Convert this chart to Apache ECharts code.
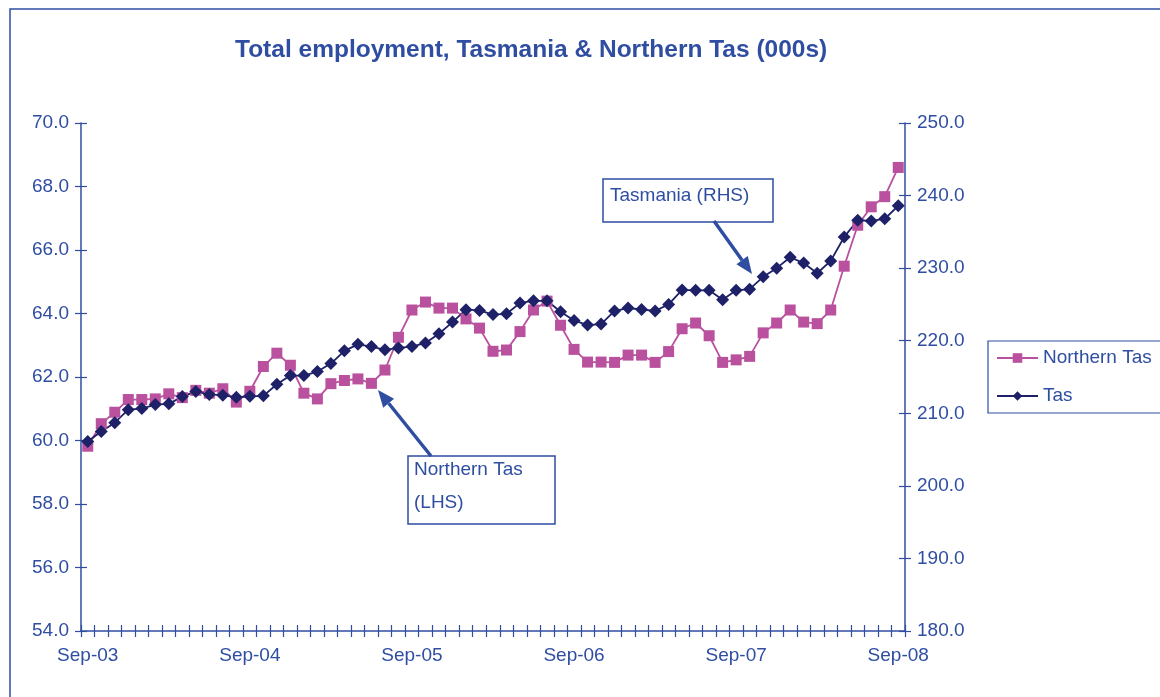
<!DOCTYPE html>
<html>
<head>
<meta charset="utf-8">
<script src="https://cdn.jsdelivr.net/npm/echarts@6/dist/echarts.min.js"></script>
<style>
  html, body { margin: 0; padding: 0; background: #fff; }
  #chart { width: 1160px; height: 697px; }
</style>
</head>
<body>
<div id="chart"></div>
<script>
// monthly, Sep-03 .. Sep-08
const months = ['Jan', 'Feb', 'Mar', 'Apr', 'May', 'Jun', 'Jul', 'Aug', 'Sep', 'Oct', 'Nov', 'Dec']
const categories = []
for (let i = 0; i <= 60; i++) {
  const m = (8 + i) % 12
  const y = 3 + Math.floor((8 + i) / 12)
  categories.push(months[m] + '-' + String(y).padStart(2, '0'))
}

// Northern Tas (LHS, 000s)
const northernTas = [
  59.82, 60.53, 60.89, 61.29, 61.29, 61.31, 61.47, 61.35, 61.58, 61.49,
  61.63, 61.21, 61.55, 62.33, 62.75, 62.37, 61.49, 61.31, 61.79, 61.89,
  61.94, 61.80, 62.22, 63.25, 64.11, 64.36, 64.17, 64.17, 63.83, 63.54,
  62.81, 62.85, 63.43, 64.11, 64.39, 63.63, 62.87, 62.47, 62.47, 62.46,
  62.69, 62.69, 62.46, 62.80, 63.52, 63.70, 63.30, 62.46, 62.54, 62.65,
  63.39, 63.70, 64.11, 63.73, 63.68, 64.11, 65.49, 66.78, 67.36, 67.68,
  68.60
]

// Tasmania (RHS, 000s)
const tas = [
  206.1, 207.5, 208.7, 210.5, 210.65, 211.2, 211.3, 212.3, 213.0, 212.6,
  212.5, 212.2, 212.35, 212.4, 214.0, 215.2, 215.2, 215.75, 216.85, 218.6,
  219.5, 219.2, 218.75, 219.0, 219.2, 219.7, 220.96, 222.57, 224.28, 224.18,
  223.6, 223.7, 225.2, 225.5, 225.5, 224.0, 222.8, 222.15, 222.3, 224.1,
  224.5, 224.3, 224.1, 225.0, 227.0, 226.95, 226.95, 225.65, 226.95, 227.1,
  228.8, 230.0, 231.5, 230.7, 229.3, 231.0, 234.3, 236.6, 236.5, 236.8,
  238.6
]

const blue = '#2f4ea2'
const font = "'Liberation Sans', Arial, sans-serif"

function arrow(x1, y1, x2, y2) {
  const ang = Math.atan2(y2 - y1, x2 - x1)
  const len = 17
  const w = 7
  const bx = x2 - len * Math.cos(ang)
  const by = y2 - len * Math.sin(ang)
  const px = -Math.sin(ang) * w
  const py = Math.cos(ang) * w
  return [{
    type: 'line',
    shape: { x1: x1, y1: y1, x2: bx, y2: by },
    style: { stroke: blue, lineWidth: 3.5 },
  }, {
    type: 'polygon',
    shape: { points: [[x2, y2], [bx + px, by + py], [bx - px, by - py]] },
    style: { fill: blue },
  }]
}

const chart = echarts.init(document.getElementById('chart'))

// each side: one axis with line + labels, and a tick-only copy pulled 6px
// into the plot with 12px ticks so the ticks cross the axis line
const valueAxis = (pos, min, max, interval, tickOnly) => ({
  type: 'value',
  position: pos,
  min: min,
  max: max,
  interval: interval,
  offset: tickOnly ? -6 : 0,
  axisLine: {
    show: true,
    onZero: false,
    lineStyle: { color: blue, width: 1.5, opacity: tickOnly ? 0 : 1 },
  },
  axisTick: { show: tickOnly, length: 12, lineStyle: { color: blue, width: 1.2 } },
  axisLabel: {
    show: !tickOnly,
    margin: 12,
    color: blue,
    fontFamily: font,
    fontSize: 19,
    formatter: (v) => v.toFixed(1),
  },
  splitLine: { show: false },
})

const catAxis = (tickOnly) => ({
  type: 'category',
  data: categories,
  position: 'bottom',
  boundaryGap: true,
  offset: tickOnly ? -6 : 0,
  axisLine: {
    show: true,
    onZero: false,
    lineStyle: { color: blue, width: 1.5, opacity: tickOnly ? 0 : 1 },
  },
  axisTick: {
    show: tickOnly,
    interval: 0,
    length: 12,
    lineStyle: { color: blue, width: 1.2 },
  },
  axisLabel: {
    show: !tickOnly,
    interval: 11,
    margin: 15,
    color: blue,
    fontFamily: font,
    fontSize: 19,
  },
})

chart.setOption({
  animation: false,
  title: {
    text: 'Total employment, Tasmania & Northern Tas (000s)',
    left: 230,
    top: 33,
    textStyle: { color: blue, fontFamily: font, fontSize: 24.5, fontWeight: 'bold' },
  },
  grid: { left: 81, right: 255, top: 123, bottom: 66 },
  legend: {
    orient: 'vertical',
    left: 996,
    top: 348,
    padding: 0,
    itemWidth: 41,
    itemHeight: 12,
    itemGap: 18,
    textStyle: { color: blue, fontFamily: font, fontSize: 19, lineHeight: 20 },
    data: ['Northern Tas', 'Tas'],
  },
  xAxis: [catAxis(false), catAxis(true)],
  yAxis: [
    valueAxis('left', 54, 70, 2, false),
    valueAxis('left', 54, 70, 2, true),
    valueAxis('right', 180, 250, 10, false),
    valueAxis('right', 180, 250, 10, true),
  ],
  series: [{
    name: 'Northern Tas',
    type: 'line',
    yAxisIndex: 0,
    data: northernTas,
    symbol: 'rect',
    symbolSize: 11,
    showAllSymbol: true,
    color: '#b9519f',
    lineStyle: { width: 1.8, color: '#b9519f' },
    itemStyle: { color: '#b9519f' },
  }, {
    name: 'Tas',
    type: 'line',
    yAxisIndex: 2,
    data: tas,
    symbol: 'diamond',
    symbolSize: 13,
    showAllSymbol: true,
    color: '#1f2168',
    lineStyle: { width: 1.8, color: '#1f2168' },
    itemStyle: { color: '#1f2168' },
  }],
  graphic: [
    {
      type: 'rect',
      shape: { x: 10, y: 9, width: 1200, height: 800 },
      style: { fill: 'none', stroke: blue, lineWidth: 1.5 },
      z: 0,
    },
    {
      type: 'rect',
      shape: { x: 988, y: 341, width: 200, height: 72 },
      style: { fill: 'none', stroke: blue, lineWidth: 1.2 },
    },
    {
      type: 'rect',
      shape: { x: 603, y: 179, width: 170, height: 43 },
      style: { fill: '#fff', stroke: blue, lineWidth: 1.5 },
    },
    {
      type: 'text',
      x: 610,
      y: 196,
      style: { text: 'Tasmania (RHS)', fill: blue, font: '19px ' + font, verticalAlign: 'middle' },
    },
    {
      type: 'rect',
      shape: { x: 408, y: 456, width: 147, height: 68 },
      style: { fill: '#fff', stroke: blue, lineWidth: 1.5 },
    },
    {
      type: 'text',
      x: 414,
      y: 470,
      style: { text: 'Northern Tas', fill: blue, font: '19px ' + font, verticalAlign: 'middle' },
    },
    {
      type: 'text',
      x: 414,
      y: 503,
      style: { text: '(LHS)', fill: blue, font: '19px ' + font, verticalAlign: 'middle' },
    },
    ...arrow(714, 221, 752, 274),
    ...arrow(431, 456, 378, 390),
  ],
})
</script>
</body>
</html>
